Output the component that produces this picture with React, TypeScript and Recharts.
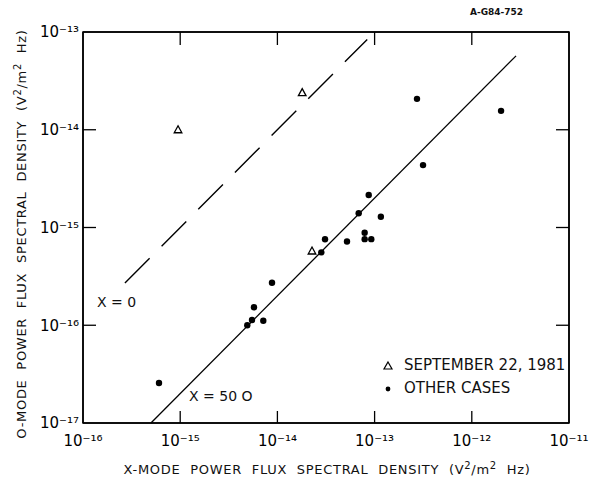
import React from "react";
import { ScatterChart, Scatter, XAxis, YAxis, ReferenceLine } from "recharts";

// SEPTEMBER 22, 1981 (triangles)
const septCases = [
  { x: 9.5e-16, y: 1.0e-14 },
  { x: 1.8e-14, y: 2.4e-14 },
  { x: 2.27e-14, y: 5.75e-16 },
];

// OTHER CASES (dots)
const otherCases = [
  { x: 6.05e-16, y: 2.57e-17 },
  { x: 4.9e-15, y: 1.0e-16 },
  { x: 5.48e-15, y: 1.13e-16 },
  { x: 5.74e-15, y: 1.53e-16 },
  { x: 7.16e-15, y: 1.11e-16 },
  { x: 8.8e-15, y: 2.72e-16 },
  { x: 2.83e-14, y: 5.57e-16 },
  { x: 3.09e-14, y: 7.57e-16 },
  { x: 5.2e-14, y: 7.2e-16 },
  { x: 6.86e-14, y: 1.4e-15 },
  { x: 7.9e-14, y: 8.85e-16 },
  { x: 7.9e-14, y: 7.6e-16 },
  { x: 8.7e-14, y: 2.15e-15 },
  { x: 9.25e-14, y: 7.6e-16 },
  { x: 1.16e-13, y: 1.29e-15 },
  { x: 2.73e-13, y: 2.07e-14 },
  { x: 3.15e-13, y: 4.35e-15 },
  { x: 2.0e-12, y: 1.56e-14 },
];

// X = O line (dashed) and X = 50 O line (solid)
const lineX0 = [2.7e-16, 8.4e-14];
const lineX50 = [5.0e-16, 2.85e-12];

const xTicks = [1e-16, 1e-15, 1e-14, 1e-13, 1e-12, 1e-11];
const yTicks = [1e-17, 1e-16, 1e-15, 1e-14, 1e-13];
const xDomain = [1e-16, 1e-11];
const yDomain = [1e-17, 1e-13];

// chart box
const W = 590;
const H = 485;
const M = { top: 31, right: 20 };
const LEFT_AXIS = 83;
const BOTTOM_AXIS = 62;
const plot = {
  left: LEFT_AXIS,
  top: M.top + 1,
  right: W - M.right - 1,
  bottom: H - BOTTOM_AXIS,
};

const font = "'DejaVu Sans', sans-serif";
const ink = "#000";

const sup: Record<string, string> = { "-": "⁻", "0": "⁰", "1": "¹", "2": "²", "3": "³", "4": "⁴", "5": "⁵", "6": "⁶", "7": "⁷", "8": "⁸", "9": "⁹" };
const pow10 = (v: number) =>
  "10" + String(Math.round(Math.log10(v))).split("").map((c) => sup[c] || c).join("");
const blank = () => "";

const Triangle = (props: any) => {
  const { cx, cy } = props;
  return (
    <path
      d={`M${cx},${cy - 4} L${cx + 3.8},${cy + 3} L${cx - 3.8},${cy + 3} Z`}
      fill="none"
      stroke={ink}
      strokeWidth={1.3}
    />
  );
};

const Dot = (props: any) => {
  const { cx, cy } = props;
  return <circle cx={cx} cy={cy} r={3.2} fill={ink} />;
};

// top/right edges of the box and the inward decade ticks, following the same log axes
const lx = (v: number) =>
  plot.left +
  ((Math.log10(v) - Math.log10(xDomain[0])) / (Math.log10(xDomain[1]) - Math.log10(xDomain[0]))) *
    (plot.right - plot.left);
const ly = (v: number) =>
  plot.bottom -
  ((Math.log10(v) - Math.log10(yDomain[0])) / (Math.log10(yDomain[1]) - Math.log10(yDomain[0]))) *
    (plot.bottom - plot.top);

const Frame = () => {
  const ix = xTicks.slice(1, -1).map(lx);
  const iy = yTicks.slice(1, -1).map(ly);
  const t = 13;
  return (
    <svg width={W} height={H} style={{ position: "absolute", left: 0, top: 0, pointerEvents: "none" }}>
      <g stroke={ink} fill="none">
        <rect x={plot.left} y={plot.top} width={plot.right - plot.left} height={plot.bottom - plot.top} strokeWidth={1.5} />
        {ix.map((x, i) => (
          <g key={"x" + i} strokeWidth={1.3}>
            <line x1={x} y1={plot.bottom} x2={x} y2={plot.bottom - t + 1} />
            <line x1={x} y1={plot.top} x2={x} y2={plot.top + t} />
          </g>
        ))}
        {iy.map((y, i) => (
          <g key={"y" + i} strokeWidth={1.3}>
            <line x1={plot.left} y1={y} x2={plot.left + t} y2={y} />
            <line x1={plot.right} y1={y} x2={plot.right - t} y2={y} />
          </g>
        ))}
      </g>
    </svg>
  );
};

const axisLine = { stroke: ink, strokeWidth: 1.5 };
const tickFont = { fill: ink, fontFamily: font, fontSize: 15 };

export default function App() {
  return (
    <div style={{ position: "absolute", left: 0, top: 0, width: W, height: H, background: "#fff", fontFamily: font, color: "#111" }}>
      <ScatterChart width={W} height={H} margin={{ top: M.top, right: M.right, bottom: 0, left: 0 }}>
        <XAxis
          dataKey="x"
          type="number"
          scale="log"
          domain={xDomain}
          ticks={xTicks}
          allowDataOverflow
          height={BOTTOM_AXIS}
          tickSize={0}
          tickMargin={12}
          tickLine={false}
          axisLine={axisLine}
          tick={tickFont}
          tickFormatter={pow10}
          interval={0}
        />
        <XAxis
          xAxisId="top"
          dataKey="x"
          orientation="top"
          type="number"
          scale="log"
          domain={xDomain}
          ticks={xTicks}
          allowDataOverflow
          height={1}
          tickLine={false}
          axisLine={axisLine}
          tickFormatter={blank}
          interval={0}
        />
        <YAxis
          dataKey="y"
          type="number"
          scale="log"
          domain={yDomain}
          ticks={yTicks}
          allowDataOverflow
          width={LEFT_AXIS}
          tickSize={0}
          tickMargin={4}
          tickLine={false}
          axisLine={axisLine}
          tick={tickFont}
          tickFormatter={pow10}
          interval={0}
        />
        <YAxis
          yAxisId="right"
          dataKey="y"
          orientation="right"
          type="number"
          scale="log"
          domain={yDomain}
          ticks={yTicks}
          allowDataOverflow
          width={1}
          tickLine={false}
          axisLine={axisLine}
          tickFormatter={blank}
          interval={0}
        />
        <ReferenceLine
          segment={[
            { x: lineX0[0], y: lineX0[0] },
            { x: lineX0[1], y: lineX0[1] },
          ]}
          stroke={ink}
          strokeWidth={1.4}
          strokeDasharray="35 17"
          ifOverflow="visible"
        />
        <ReferenceLine
          segment={[
            { x: lineX50[0], y: lineX50[0] / 50 },
            { x: lineX50[1], y: lineX50[1] / 50 },
          ]}
          stroke={ink}
          strokeWidth={1.3}
          ifOverflow="visible"
        />
        <Scatter
          name="SEPTEMBER 22, 1981"
          xAxisId="top"
          yAxisId="right"
          data={septCases}
          shape={<Triangle />}
          isAnimationActive={false}
        />
        <Scatter name="OTHER CASES" data={otherCases} shape={<Dot />} isAnimationActive={false} />
      </ScatterChart>
      <Frame />
      <div style={{ position: "absolute", left: 382, top: 354, fontSize: 15, lineHeight: "23px" }}>
        <div style={{ display: "flex", alignItems: "center" }}>
          <svg width={22} height={12}>
            <path d="M6,2 L10,9 L2,9 Z" fill="none" stroke={ink} strokeWidth={1.2} />
          </svg>
          <span>SEPTEMBER 22, 1981</span>
        </div>
        <div style={{ display: "flex", alignItems: "center" }}>
          <svg width={22} height={12}>
            <circle cx={6} cy={6} r={2.4} fill={ink} />
          </svg>
          <span>OTHER CASES</span>
        </div>
      </div>
      <div style={{ position: "absolute", left: 97, top: 294, fontSize: 14 }}>X = 0</div>
      <div style={{ position: "absolute", left: 189, top: 388, fontSize: 14, whiteSpace: "pre" }}>X = 50 O</div>
      <div style={{ position: "absolute", left: 470, top: 7, fontSize: 9, fontWeight: "bold" }}>A-G84-752</div>
      <div
        style={{
          position: "absolute",
          left: 110,
          top: 460,
          width: 434,
          textAlign: "center",
          fontSize: 13,
          letterSpacing: 0.7,
          wordSpacing: 5,
          whiteSpace: "nowrap",
        }}
      >
        X-MODE POWER FLUX SPECTRAL DENSITY (V<sup style={{ fontSize: 10 }}>2</sup>/m<sup style={{ fontSize: 10 }}>2</sup> Hz)
      </div>
      <div
        style={{
          position: "absolute",
          left: 22 - 215,
          top: 234 - 10,
          width: 430,
          height: 20,
          textAlign: "center",
          fontSize: 13,
          letterSpacing: 0.7,
          wordSpacing: 5,
          whiteSpace: "nowrap",
          transform: "rotate(-90deg)",
        }}
      >
        O-MODE POWER FLUX SPECTRAL DENSITY (V<sup style={{ fontSize: 10 }}>2</sup>/m<sup style={{ fontSize: 10 }}>2</sup> Hz)
      </div>
    </div>
  );
}
